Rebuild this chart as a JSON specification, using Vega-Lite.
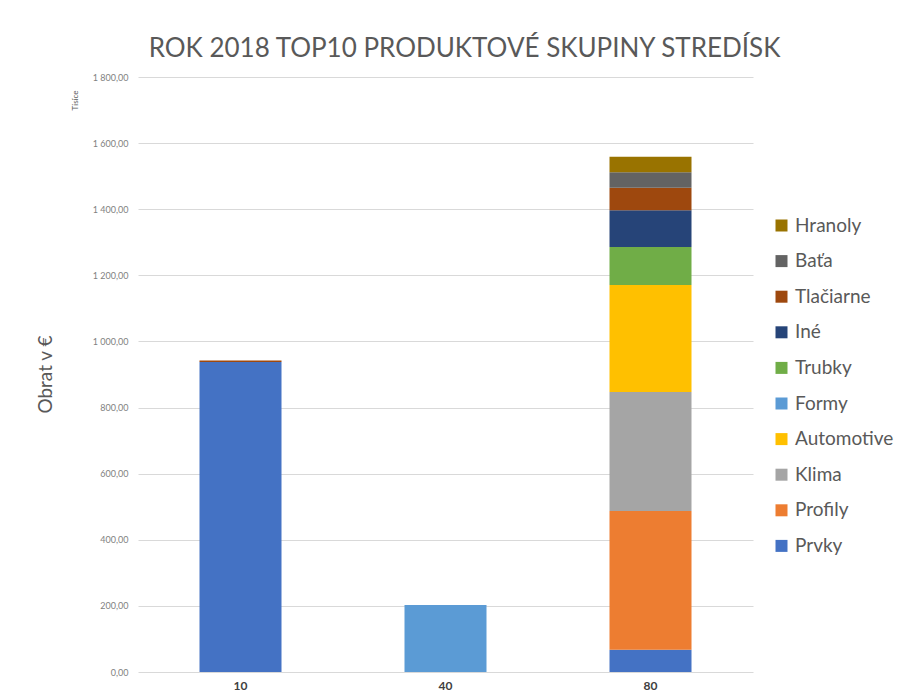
{
  "$schema": "https://vega.github.io/schema/vega-lite/v6.json",
  "autosize": {"type": "none"},
  "width": 615,
  "height": 595,
  "padding": {"left": 138, "top": 77, "right": 160, "bottom": 27},
  "background": "white",
  "title": {
    "text": "ROK 2018 TOP10 PRODUKTOVÉ SKUPINY STREDÍSK",
    "font": "Lato",
    "fontSize": 26,
    "fontWeight": "normal",
    "color": "#595959",
    "anchor": "middle",
    "dx": 19,
    "offset": 11
  },
  "data": {
    "values": [
      {"stredisko": "10", "skupina": "Prvky", "rank": 1, "obrat": 938},
      {"stredisko": "10", "skupina": "Tlačiarne", "rank": 8, "obrat": 4},
      {"stredisko": "40", "skupina": "Formy", "rank": 5, "obrat": 203},
      {"stredisko": "80", "skupina": "Prvky", "rank": 1, "obrat": 67},
      {"stredisko": "80", "skupina": "Profily", "rank": 2, "obrat": 420},
      {"stredisko": "80", "skupina": "Klima", "rank": 3, "obrat": 360},
      {"stredisko": "80", "skupina": "Automotive", "rank": 4, "obrat": 324},
      {"stredisko": "80", "skupina": "Trubky", "rank": 6, "obrat": 115},
      {"stredisko": "80", "skupina": "Iné", "rank": 7, "obrat": 111},
      {"stredisko": "80", "skupina": "Tlačiarne", "rank": 8, "obrat": 68},
      {"stredisko": "80", "skupina": "Baťa", "rank": 9, "obrat": 47},
      {"stredisko": "80", "skupina": "Hranoly", "rank": 10, "obrat": 47}
    ]
  },
  "layer": [
    {
      "mark": {"type": "bar"},
      "encoding": {
        "x": {
          "field": "stredisko",
          "type": "nominal",
          "sort": ["10", "40", "80"],
          "scale": {"paddingInner": 0.6, "paddingOuter": 0.3},
          "axis": {
            "title": null,
            "labelAngle": 0,
            "domain": false,
            "ticks": false,
            "labelFont": "Lato",
            "labelFontSize": 12,
            "labelFontWeight": "bold",
            "labelColor": "#404040",
            "labelPadding": 8
          }
        },
        "y": {
          "field": "obrat",
          "type": "quantitative",
          "stack": "zero",
          "scale": {"domain": [0, 1800]},
          "axis": {
            "orient": "left",
            "title": "Obrat v €",
            "titleFont": "Lato",
            "titleFontSize": 19,
            "titleFontWeight": "normal",
            "titleColor": "#595959",
            "titleX": -93,
            "titleY": 297,
            "titleAlign": "center",
            "titleBaseline": "middle",
            "values": [0, 200, 400, 600, 800, 1000, 1200, 1400, 1600, 1800],
            "labelExpr": "replace(replace(format(datum.value, ',.2f'), ',', ' '), '.', ',')",
            "labelFont": "Lato",
            "labelFontSize": 9,
            "labelColor": "#7f7f7f",
            "labelPadding": 10,
            "domain": false,
            "ticks": false,
            "grid": true,
            "gridColor": "#d9d9d9",
            "gridWidth": 1
          }
        },
        "color": {
          "field": "skupina",
          "type": "nominal",
          "scale": {
            "domain": ["Hranoly", "Baťa", "Tlačiarne", "Iné", "Trubky", "Formy", "Automotive", "Klima", "Profily", "Prvky"],
            "range": ["#997300", "#636363", "#9E480E", "#264478", "#70AD47", "#5B9BD5", "#FFC000", "#A5A5A5", "#ED7D31", "#4472C4"]
          },
          "legend": {
            "title": null,
            "orient": "none",
            "legendX": 634,
            "legendY": 139,
            "symbolType": "square",
            "symbolSize": 144,
            "symbolStrokeWidth": 0,
            "labelFont": "Lato",
            "labelFontSize": 19,
            "labelColor": "#595959",
            "labelOffset": 4,
            "rowPadding": 15.6
          }
        },
        "order": {"field": "rank", "type": "quantitative", "sort": "ascending"}
      }
    },
    {
      "mark": {"type": "rule", "opacity": 0},
      "encoding": {
        "y": {
          "datum": 0,
          "type": "quantitative",
          "axis": {
            "orient": "left",
            "title": "Tisíce",
            "titleFont": "Lato",
            "titleFontSize": 8,
            "titleFontWeight": "normal",
            "titleColor": "#595959",
            "titleX": -63,
            "titleY": 23,
            "titleAlign": "center",
            "titleBaseline": "middle",
            "labels": false,
            "ticks": false,
            "domain": false,
            "grid": false
          }
        }
      }
    }
  ],
  "resolve": {"axis": {"y": "independent"}},
  "config": {"view": {"stroke": null}}
}
